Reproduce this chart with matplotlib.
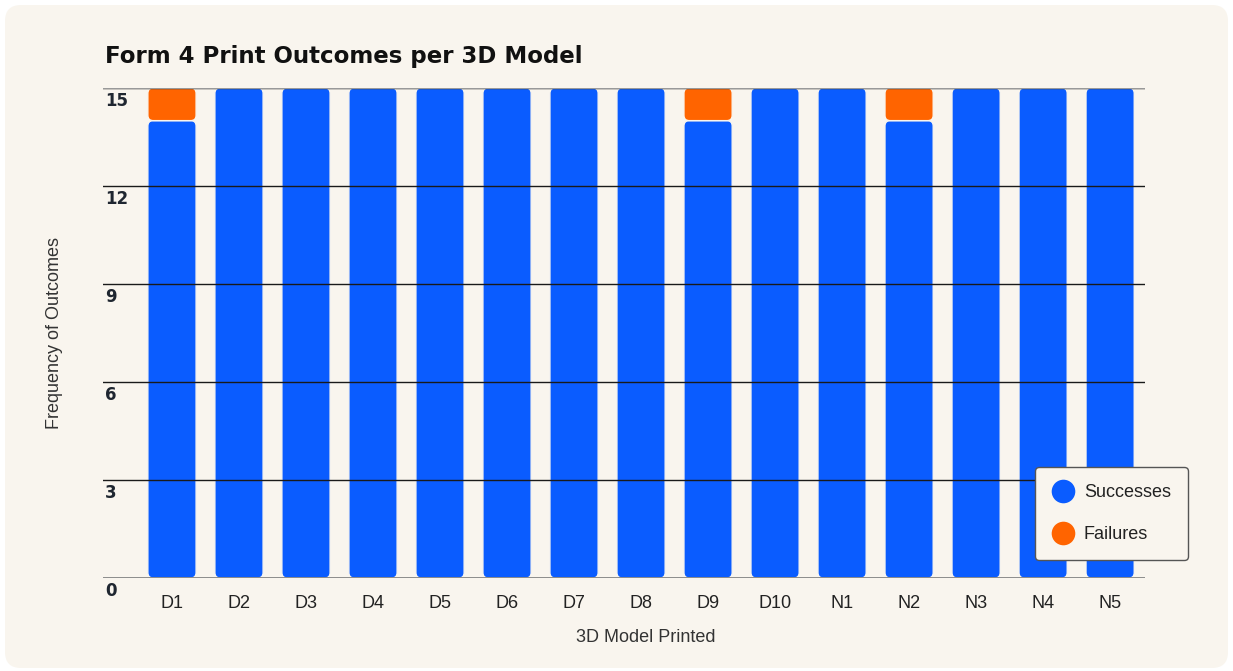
import matplotlib
matplotlib.use('Agg')
from matplotlib import pyplot as plt
from matplotlib.patches import FancyBboxPatch
from matplotlib.lines import Line2D
from matplotlib import transforms

models = ['D1', 'D2', 'D3', 'D4', 'D5', 'D6', 'D7', 'D8', 'D9', 'D10',
          'N1', 'N2', 'N3', 'N4', 'N5']
successes = [14, 15, 15, 15, 15, 15, 15, 15, 14, 15, 15, 14, 15, 15, 15]
failures = [1, 0, 0, 0, 0, 0, 0, 0, 1, 0, 0, 1, 0, 0, 0]
yticks = [0, 3, 6, 9, 12, 15]

blue = '#0A5CFF'
orange = '#FF6400'
panel = '#F9F5EE'
ink = '#1F2630'

plt.rcParams['font.family'] = ['Liberation Sans', 'DejaVu Sans']

fig = plt.figure(figsize=(12.33, 6.71), dpi=100, facecolor='white')
fig.patches.append(FancyBboxPatch((0.05, 0.03), 12.23, 6.63,
                                  boxstyle='round,pad=0,rounding_size=0.16',
                                  transform=fig.dpi_scale_trans,
                                  facecolor=panel, edgecolor='none', zorder=-5))

ax = fig.add_axes([0.0835, 0.1386, 0.8451, 0.7303])
ax.set_facecolor('none')

x = list(range(len(models)))
ax.set_xlim(-1.03, 14.52)
ax.set_ylim(0, 15)

# px per data unit, used to keep corners round
xs = 1042 / 15.55
ys = 490 / 15
aspect = xs / ys


def rounded_bars(bars, color):
    for b in bars:
        if b.get_height() <= 0:
            continue
        p = FancyBboxPatch((b.get_x(), b.get_y()), b.get_width(), b.get_height(),
                           boxstyle='round,pad=0,rounding_size=0.08',
                           mutation_aspect=aspect, facecolor=color,
                           edgecolor=panel, linewidth=1.0, zorder=1)
        ax.add_patch(p)
        b.set_visible(False)


b1 = ax.bar(x, successes, width=0.72)
b2 = ax.bar(x, failures, width=0.72, bottom=successes)
rounded_bars(b1, blue)
rounded_bars(b2, orange)

ax.set_yticks(yticks)
ax.set_xticks(x)
ax.set_xticklabels(models, fontsize=13, color='#222222')
ax.tick_params(axis='x', length=0, pad=12)
ax.tick_params(axis='y', length=0, pad=0, labelsize=12, labelcolor=ink)
offset = transforms.ScaledTranslation(2 / 100, -4 / 100, fig.dpi_scale_trans)
for lab in ax.get_yticklabels():
    lab.set_fontweight('bold')
    lab.set_family(['DejaVu Sans'])
    lab.set_horizontalalignment('left')
    lab.set_verticalalignment('top')
    lab.set_transform(lab.get_transform() + offset)

for s in ax.spines.values():
    s.set_visible(False)
ax.set_axisbelow(False)
ax.yaxis.grid(True, color='#1a1a1a', linewidth=1.0)
ax.axhline(0, color='#888888', linewidth=2, zorder=3)
ax.axhline(15, color='#999999', linewidth=1.6, zorder=3)

ax.set_xlabel('3D Model Printed', fontsize=13, color='#333333')
ax.xaxis.set_label_coords(0.521, -0.105)
ax.set_ylabel('Frequency of Outcomes', fontsize=13, color='#333333')
ax.yaxis.set_label_coords(-0.038, 0.5)

fig.text(105 / 1233, 1 - 57 / 671, 'Form 4 Print Outcomes per 3D Model',
         fontsize=16.5, fontweight='bold', color='#111111', va='center',
         family=['DejaVu Sans'])

handles = [Line2D([], [], linestyle='none', marker='o', markersize=17,
                  markerfacecolor=blue, markeredgecolor='none', label='Successes'),
           Line2D([], [], linestyle='none', marker='o', markersize=17,
                  markerfacecolor=orange, markeredgecolor='none', label='Failures')]
leg = fig.legend(handles=handles, loc='lower right',
                 bbox_to_anchor=(1188 / 1233, 1 - 560 / 671),
                 fontsize=13, frameon=True, fancybox=True, facecolor=panel,
                 edgecolor='#555555', framealpha=1, borderpad=0.95,
                 labelspacing=1.35, handlelength=1.2, handletextpad=0.55,
                 borderaxespad=0)
leg.get_frame().set_linewidth(1.0)
for t in leg.get_texts():
    t.set_color('#222222')

fig.savefig('out.png', dpi=100, facecolor='white')
